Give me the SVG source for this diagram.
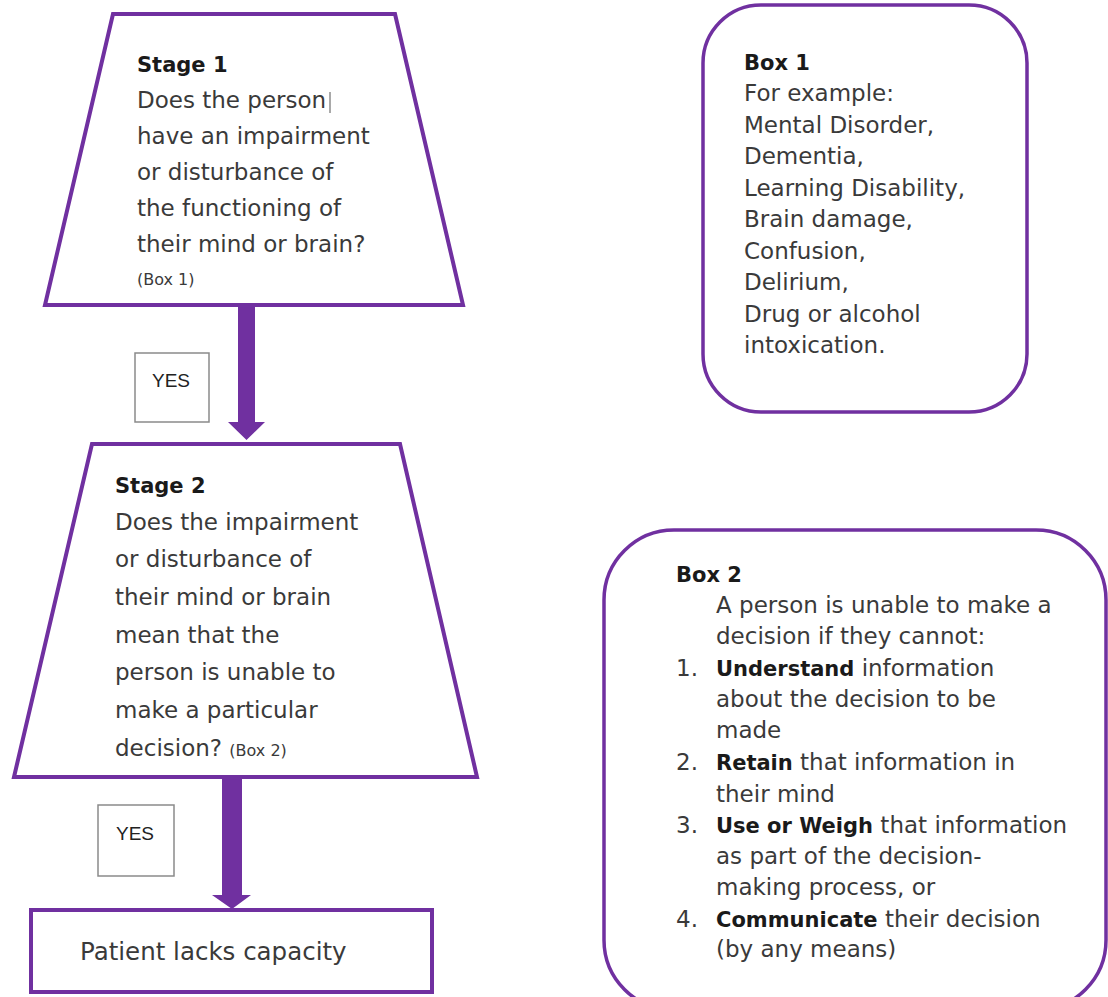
<svg xmlns="http://www.w3.org/2000/svg" width="1108" height="997" viewBox="0 0 1108 997">
<defs>
<style>
.shape{fill:#fff;stroke:#7030A0;stroke-width:4;stroke-linejoin:miter}
.box{fill:#fff;stroke:#7030A0;stroke-width:3.5}
.yes{fill:#fff;stroke:#8a8a8a;stroke-width:1.5}
.t{font-family:"DejaVu Sans",sans-serif;font-size:23px;fill:#3a3a3a}
.b{font-family:"DejaVu Sans",sans-serif;font-size:21px;font-weight:bold;fill:#1a1a1a}
.s{font-family:"DejaVu Sans",sans-serif;font-size:16px;fill:#3a3a3a}
.y{font-family:"Liberation Sans",Arial,sans-serif;font-size:19px;fill:#222}
.arrow{fill:#7030A0}
</style>
</defs>
<g id="connectors">
<path class="arrow" d="M238,306 H255 V422 H265 L246.5,440 L228,422 H238 Z"/>
<path class="arrow" d="M222,777 H242 V895 H251 L232,909 L212,895 H222 Z"/>
</g>
<g id="stage1">
<polygon class="shape" points="113,14 395,14 463,305 45,305"/>
<text class="b" x="137" y="72">Stage 1</text>
<text class="t" x="137" y="108">Does the person</text>
<line x1="330" y1="92" x2="330" y2="113" stroke="#555" stroke-width="1"/>
<text class="t" x="137" y="144">have an impairment</text>
<text class="t" x="137" y="180">or disturbance of</text>
<text class="t" x="137" y="216">the functioning of</text>
<text class="t" x="137" y="252">their mind or brain?</text>
<text class="s" x="137" y="285">(Box 1)</text>
</g>
<g id="yes1">
<rect class="yes" x="135" y="353" width="74" height="69"/>
<text class="y" x="152" y="387">YES</text>
</g>
<g id="stage2">
<polygon class="shape" points="92,444 400,444 477,777 14,777"/>
<text class="b" x="115" y="493">Stage 2</text>
<text class="t" x="115" y="530">Does the impairment</text>
<text class="t" x="115" y="567">or disturbance of</text>
<text class="t" x="115" y="605">their mind or brain</text>
<text class="t" x="115" y="643">mean that the</text>
<text class="t" x="115" y="680">person is unable to</text>
<text class="t" x="115" y="718">make a particular</text>
<text class="t" x="115" y="756">decision? <tspan class="s">(Box 2)</tspan></text>
</g>
<g id="yes2">
<rect class="yes" x="98" y="805" width="76" height="71"/>
<text class="y" x="116" y="840">YES</text>
</g>
<g id="result">
<rect class="shape" x="31" y="910" width="401" height="82"/>
<text class="t" x="80" y="960" style="font-size:24.5px">Patient lacks capacity</text>
</g>
<g id="box1">
<rect class="box" x="703" y="5" width="324" height="407" rx="58" ry="58"/>
<text class="b" x="744" y="70">Box 1</text>
<text class="t" x="744" y="101">For example:</text>
<text class="t" x="744" y="133">Mental Disorder,</text>
<text class="t" x="744" y="164">Dementia,</text>
<text class="t" x="744" y="196">Learning Disability,</text>
<text class="t" x="744" y="227">Brain damage,</text>
<text class="t" x="744" y="259">Confusion,</text>
<text class="t" x="744" y="290">Delirium,</text>
<text class="t" x="744" y="322">Drug or alcohol</text>
<text class="t" x="744" y="353">intoxication.</text>
</g>
<g id="box2">
<rect class="box" x="604" y="530" width="502" height="480" rx="70" ry="70"/>
<text class="b" x="676" y="582">Box 2</text>
<text class="t" x="716" y="613">A person is unable to make a</text>
<text class="t" x="716" y="644">decision if they cannot:</text>
<text class="t" x="676" y="676">1.</text>
<text class="t" x="716" y="676"><tspan class="b">Understand</tspan> information</text>
<text class="t" x="716" y="707">about the decision to be</text>
<text class="t" x="716" y="738">made</text>
<text class="t" x="676" y="770">2.</text>
<text class="t" x="716" y="770"><tspan class="b">Retain</tspan> that information in</text>
<text class="t" x="716" y="802">their mind</text>
<text class="t" x="676" y="833">3.</text>
<text class="t" x="716" y="833"><tspan class="b">Use or Weigh</tspan> that information</text>
<text class="t" x="716" y="864">as part of the decision-</text>
<text class="t" x="716" y="895">making process, or</text>
<text class="t" x="676" y="927">4.</text>
<text class="t" x="716" y="927"><tspan class="b">Communicate</tspan> their decision</text>
<text class="t" x="716" y="957">(by any means)</text>
</g>
</svg>
